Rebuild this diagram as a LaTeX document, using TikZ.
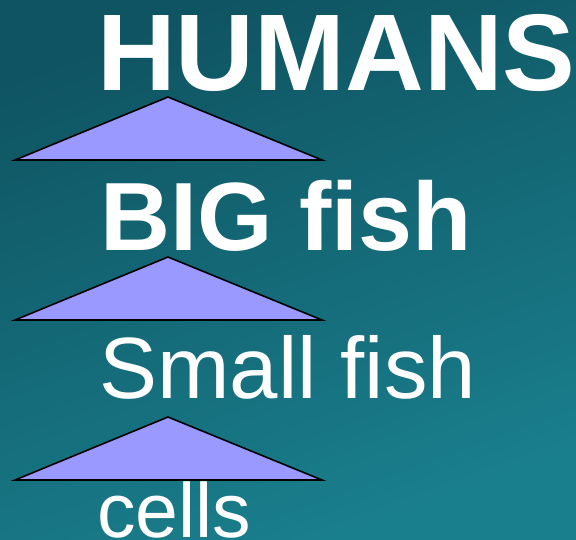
\documentclass[tikz,border=0pt]{standalone}
\usepackage{fontspec}
\setmainfont{Liberation Sans}
\usepackage{tikz}
\usetikzlibrary{positioning}

\definecolor{bgtop}{HTML}{0F5462}
\definecolor{bgbot}{HTML}{1A7F8D}
\definecolor{tri}{HTML}{9999FF}

\begin{document}
\begin{tikzpicture}[x=1pt,y=-1pt,
    level/.style={draw=black,line width=1.6pt,fill=tri,line join=miter},
    word/.style={text=white,inner sep=0pt,anchor=base west}]
    % background
    \shade[top color=bgtop,bottom color=bgbot,shading angle=20] (0,0) rectangle (576,539);
    \useasboundingbox (0,0) rectangle (576,539);
    % triangles
    \filldraw[level] (15,160) -- (168,97) -- (322,160) -- cycle;
    \filldraw[level] (15,320) -- (168,257) -- (322,320) -- cycle;
    \filldraw[level] (15,480) -- (168,417) -- (322,480) -- cycle;
    % levels of the chain
    \node[word,font=\fontsize{109}{109}\selectfont\bfseries] (humans) at (97,90) {HUMANS};
    \node[word,font=\fontsize{97}{97}\selectfont\bfseries] (bigfish) at (100,250) {BIG fish};
    \node[word,font=\fontsize{87}{87}\selectfont] (smallfish) at (99,398) {Small fish};
    \node[word,font=\fontsize{77}{77}\selectfont] (cells) at (97,537) {cells};
\end{tikzpicture}
\end{document}
